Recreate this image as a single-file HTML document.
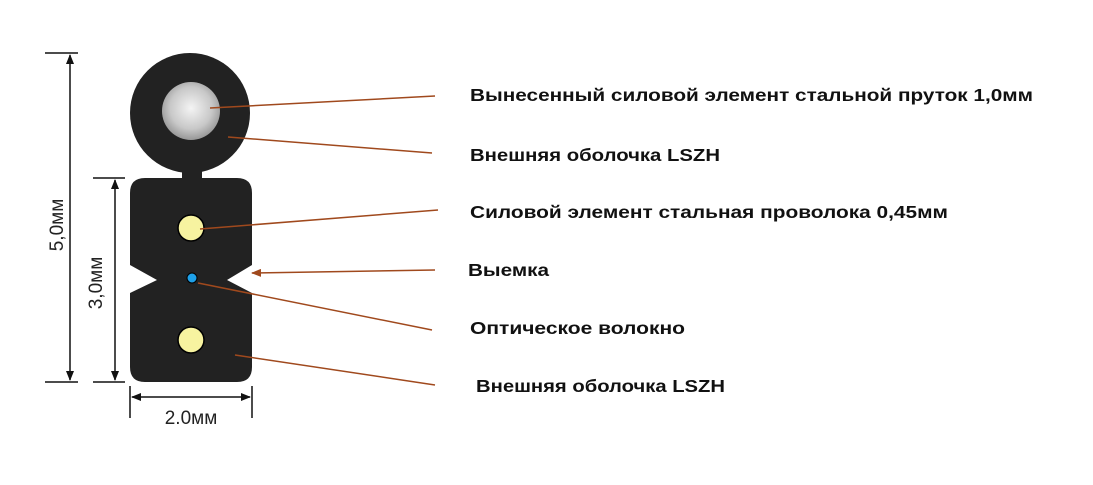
<!DOCTYPE html>
<html><head><meta charset="utf-8"><style>
html,body{margin:0;padding:0;background:#fff;}
svg{display:block}
.l{font-family:"Liberation Sans","DejaVu Sans",sans-serif;font-weight:bold;font-size:17.5px;fill:#111}
.d{font-family:"Liberation Sans","DejaVu Sans",sans-serif;font-size:19px;fill:#222}
</style></head><body>
<svg width="1093" height="485" viewBox="0 0 1093 485" xmlns="http://www.w3.org/2000/svg">
<defs>
<radialGradient id="g" cx="0.5" cy="0.45" r="0.6">
<stop offset="0" stop-color="#f4f4f4"/><stop offset="0.6" stop-color="#c8c8c8"/><stop offset="1" stop-color="#8a8a8a"/>
</radialGradient>
<marker id="a" markerWidth="10" markerHeight="8" refX="1" refY="4" orient="auto" markerUnits="userSpaceOnUse">
<path d="M10,0 L0,4 L10,8 z" fill="#a0491d"/></marker>
<marker id="b" markerWidth="10" markerHeight="8" refX="9" refY="4" orient="auto" markerUnits="userSpaceOnUse">
<path d="M0,0 L10,4 L0,8 z" fill="#111"/></marker>
<marker id="c" markerWidth="10" markerHeight="8" refX="1" refY="4" orient="auto" markerUnits="userSpaceOnUse">
<path d="M10,0 L0,4 L10,8 z" fill="#111"/></marker>
</defs>
<circle cx="190" cy="113" r="60" fill="#222"/>
<rect x="182" y="165" width="20" height="20" fill="#222"/>
<path d="M145,178 H237 Q252,178 252,193 V265 L227,280 L252,293 V367 Q252,382 237,382 H145 Q130,382 130,367 V293 L157,280 L130,265 V193 Q130,178 145,178 Z" fill="#222"/>
<circle cx="191" cy="111" r="29" fill="url(#g)"/>
<circle cx="191" cy="228" r="13" fill="#f7f3a0" stroke="#000" stroke-width="1.5"/>
<circle cx="191" cy="340" r="13" fill="#f7f3a0" stroke="#000" stroke-width="1.5"/>
<circle cx="192" cy="278" r="5" fill="#1ea0e8" stroke="#000" stroke-width="1"/>
<g stroke="#111" stroke-width="1.5">
<line x1="45" y1="53" x2="78" y2="53"/><line x1="45" y1="382" x2="78" y2="382"/>
<line x1="70" y1="55" x2="70" y2="380" marker-start="url(#c)" marker-end="url(#b)"/>
<line x1="93" y1="178" x2="125" y2="178"/><line x1="93" y1="382" x2="125" y2="382"/>
<line x1="115" y1="180" x2="115" y2="380" marker-start="url(#c)" marker-end="url(#b)"/>
<line x1="130" y1="386" x2="130" y2="418"/><line x1="252" y1="386" x2="252" y2="418"/>
<line x1="132" y1="397" x2="250" y2="397" marker-start="url(#c)" marker-end="url(#b)"/>
</g>
<text class="d" transform="translate(63,225) rotate(-90)" text-anchor="middle">5,0мм</text>
<text class="d" transform="translate(102,283) rotate(-90)" text-anchor="middle">3,0мм</text>
<text class="d" x="191" y="424" text-anchor="middle">2.0мм</text>
<g stroke="#a0491d" stroke-width="1.5">
<line x1="210" y1="108" x2="435" y2="96"/>
<line x1="228" y1="137" x2="432" y2="153"/>
<line x1="200" y1="229" x2="438" y2="210"/>
<line x1="252" y1="273" x2="435" y2="270" marker-start="url(#a)"/>
<line x1="198" y1="283" x2="432" y2="330"/>
<line x1="235" y1="355" x2="435" y2="385"/>
</g>
<text class="l" x="470" y="101" textLength="563" lengthAdjust="spacingAndGlyphs">Вынесенный силовой элемент стальной пруток 1,0мм</text>
<text class="l" x="470" y="161" textLength="250" lengthAdjust="spacingAndGlyphs">Внешняя оболочка LSZH</text>
<text class="l" x="470" y="218" textLength="478" lengthAdjust="spacingAndGlyphs">Силовой элемент стальная проволока 0,45мм</text>
<text class="l" x="468" y="276" textLength="81" lengthAdjust="spacingAndGlyphs">Выемка</text>
<text class="l" x="470" y="334" textLength="215" lengthAdjust="spacingAndGlyphs">Оптическое волокно</text>
<text class="l" x="476" y="392" textLength="249" lengthAdjust="spacingAndGlyphs">Внешняя оболочка LSZH</text>
</svg>
</body></html>
